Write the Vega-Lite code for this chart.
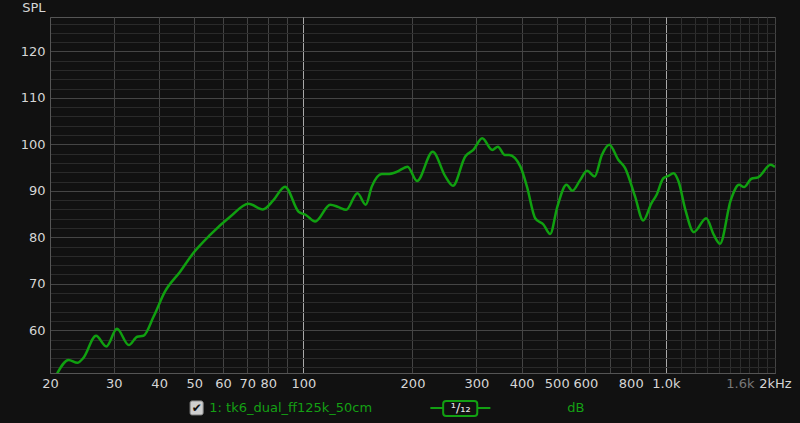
{
  "$schema": "https://vega.github.io/schema/vega-lite/v6.json",
  "width": 725,
  "height": 356,
  "autosize": {"type": "none"},
  "padding": {"left": 50, "top": 17, "right": 25, "bottom": 50},
  "background": "#111111",
  "config": {
    "font": "DejaVu Sans",
    "view": {"stroke": "#555555", "strokeWidth": 1, "fill": "#111111"},
    "text": {"font": "DejaVu Sans"},
    "axis": {"gridDash": [], "gridOpacity": 1}
  },
  "resolve": {"axis": {"x": "independent", "y": "independent"}, "scale": {"x": "shared", "y": "shared"}},
  "layer": [
    {
      "data": {
        "values": [
          {"f": 20.9, "db": 50.6},
          {"f": 22.5, "db": 53.6},
          {"f": 23.8, "db": 53.0},
          {"f": 24.7, "db": 54.0},
          {"f": 26.8, "db": 58.8},
          {"f": 28.6, "db": 56.5},
          {"f": 30.6, "db": 60.3},
          {"f": 33.0, "db": 56.8},
          {"f": 34.8, "db": 58.6},
          {"f": 36.2, "db": 58.8},
          {"f": 38.6, "db": 62.9},
          {"f": 41.5, "db": 68.3},
          {"f": 45.7, "db": 72.6},
          {"f": 49.7, "db": 76.6},
          {"f": 55.3, "db": 80.5},
          {"f": 62.8, "db": 84.4},
          {"f": 70.6, "db": 87.2},
          {"f": 77.3, "db": 86.0},
          {"f": 82.7, "db": 88.0},
          {"f": 89.0, "db": 90.9},
          {"f": 97.0, "db": 85.5},
          {"f": 101.6, "db": 84.8},
          {"f": 107.8, "db": 83.4},
          {"f": 118.6, "db": 87.0},
          {"f": 125, "db": 86.5},
          {"f": 131.2, "db": 85.9},
          {"f": 141, "db": 89.5},
          {"f": 148.6, "db": 87.0},
          {"f": 154.4, "db": 90.9},
          {"f": 164.6, "db": 93.6},
          {"f": 170.7, "db": 93.6},
          {"f": 181.2, "db": 94.1},
          {"f": 193.8, "db": 95.2},
          {"f": 205.8, "db": 92.1},
          {"f": 227.4, "db": 98.4},
          {"f": 246.4, "db": 93.1},
          {"f": 258.6, "db": 91.1},
          {"f": 279.6, "db": 97.4},
          {"f": 294.4, "db": 98.8},
          {"f": 311.4, "db": 101.3},
          {"f": 332, "db": 98.8},
          {"f": 344, "db": 99.5},
          {"f": 359.6, "db": 97.7},
          {"f": 369.6, "db": 97.7},
          {"f": 397, "db": 95.2},
          {"f": 413.8, "db": 90.9},
          {"f": 436, "db": 84.1},
          {"f": 460, "db": 82.7},
          {"f": 479.4, "db": 80.7},
          {"f": 502, "db": 86.6},
          {"f": 532, "db": 91.3},
          {"f": 552, "db": 90.0},
          {"f": 580, "db": 92.3},
          {"f": 606, "db": 94.3},
          {"f": 636, "db": 93.1},
          {"f": 666, "db": 97.7},
          {"f": 698, "db": 99.9},
          {"f": 739, "db": 96.7},
          {"f": 772, "db": 94.9},
          {"f": 822, "db": 88.8},
          {"f": 866, "db": 83.6},
          {"f": 912, "db": 87.3},
          {"f": 942, "db": 89.1},
          {"f": 984, "db": 92.7},
          {"f": 1016, "db": 93.2},
          {"f": 1050, "db": 93.8},
          {"f": 1084, "db": 92.0},
          {"f": 1132, "db": 85.9},
          {"f": 1194, "db": 81.1},
          {"f": 1292, "db": 84.1},
          {"f": 1356, "db": 80.5},
          {"f": 1410, "db": 78.6},
          {"f": 1510, "db": 88.0},
          {"f": 1592, "db": 91.3},
          {"f": 1643, "db": 90.8},
          {"f": 1722, "db": 92.6},
          {"f": 1796, "db": 92.9},
          {"f": 1946, "db": 95.6},
          {"f": 2000, "db": 95.1}
        ]
      },
      "mark": {"type": "line", "interpolate": "monotone", "color": "#10a010", "strokeWidth": 2.5, "clip": true},
      "encoding": {
        "x": {
          "field": "f",
          "type": "quantitative",
          "scale": {"type": "log", "domain": [20, 2000], "nice": false},
          "axis": {
            "title": null,
            "values": [20, 30, 40, 50, 60, 70, 80, 90, 100, 200, 300, 400, 500, 600, 700, 800, 900, 1000, 1100, 1200, 1300, 1400, 1500, 1600, 1700, 1800, 1900, 2000],
            "labelExpr": "datum.value==1000?'1.0k':datum.value==1600?'1.6k':datum.value==2000?'2kHz':indexof([20,30,40,50,60,70,80,100,200,300,400,500,600,800],datum.value)>=0?''+datum.value:''",
            "labelOverlap": false,
            "labelFlush": false,
            "labelBound": false,
            "labelFontSize": 13,
            "labelFont": "DejaVu Sans",
            "labelPadding": 4,
            "labelColor": {"condition": {"test": "datum.value==1600", "value": "#787878"}, "value": "#d6d6d6"},
            "ticks": false,
            "domain": true,
            "domainColor": "#555555",
            "grid": true,
            "gridDash": [],
            "gridColor": {"condition": [
              {"test": "datum.value==100||datum.value==1000", "value": "#a8a8a8"},
              {"test": "datum.value>1000&&datum.value<2000", "value": "#2e2e2e"}
            ], "value": "#444444"},
            "gridWidth": 1
          }
        },
        "y": {
          "field": "db",
          "type": "quantitative",
          "scale": {"domain": [50.8, 127.4], "nice": false, "zero": false},
          "axis": {
            "title": "SPL",
            "titleAngle": 0,
            "titleAlign": "right",
            "titleBaseline": "middle",
            "titleX": -5,
            "titleY": -10,
            "titleFontSize": 13,
            "titleFontWeight": "normal",
            "titleFont": "DejaVu Sans",
            "titleColor": "#d6d6d6",
            "values": [52, 54, 56, 58, 60, 62, 64, 66, 68, 70, 72, 74, 76, 78, 80, 82, 84, 86, 88, 90, 92, 94, 96, 98, 100, 102, 104, 106, 108, 110, 112, 114, 116, 118, 120, 122, 124, 126],
            "labelExpr": "datum.value % 10 == 0 ? ''+datum.value : ''",
            "labelFontSize": 13,
            "labelFont": "DejaVu Sans",
            "labelColor": "#d6d6d6",
            "labelPadding": 5,
            "labelOverlap": false,
            "labelFlush": false,
            "ticks": false,
            "domain": true,
            "domainColor": "#555555",
            "grid": true,
            "gridDash": [],
            "gridColor": {"condition": {"test": "datum.value % 10 == 0", "value": "#454545"}, "value": "#2a2a2a"},
            "gridWidth": 1
          }
        }
      }
    },
    {
      "data": {"values": [{}]},
      "mark": {"type": "rect", "fill": "#cfcfcf", "stroke": "#888888", "strokeWidth": 1, "cornerRadius": 2},
      "encoding": {
        "x": {"datum": 48.7, "type": "quantitative", "axis": null},
        "x2": {"datum": 52.9},
        "y": {"datum": 44.79, "type": "quantitative", "axis": null},
        "y2": {"datum": 41.78}
      }
    },
    {
      "data": {"values": [{}]},
      "mark": {"type": "text", "text": "✔", "color": "#111111", "fontSize": 12, "align": "center", "baseline": "middle"},
      "encoding": {
        "x": {"datum": 50.8, "type": "quantitative", "axis": null},
        "y": {"datum": 43.28, "type": "quantitative", "axis": null}
      }
    },
    {
      "data": {"values": [{}]},
      "mark": {"type": "text", "text": "1: tk6_dual_ff125k_50cm", "color": "#14a014", "fontSize": 13, "align": "left", "baseline": "middle"},
      "encoding": {
        "x": {"datum": 55.0, "type": "quantitative", "axis": null},
        "y": {"datum": 43.28, "type": "quantitative", "axis": null}
      }
    },
    {
      "data": {"values": [{}]},
      "mark": {"type": "rule", "color": "#12a012", "strokeWidth": 2},
      "encoding": {
        "x": {"datum": 224, "type": "quantitative", "axis": null},
        "x2": {"datum": 328},
        "y": {"datum": 43.28, "type": "quantitative", "axis": null}
      }
    },
    {
      "data": {"values": [{}]},
      "mark": {"type": "rect", "fill": "#111111", "stroke": "#12a012", "strokeWidth": 2, "cornerRadius": 3},
      "encoding": {
        "x": {"datum": 243, "type": "quantitative", "axis": null},
        "x2": {"datum": 301.8},
        "y": {"datum": 44.79, "type": "quantitative", "axis": null},
        "y2": {"datum": 41.56}
      }
    },
    {
      "data": {"values": [{}]},
      "mark": {"type": "text", "text": "¹/₁₂", "color": "#e6e6e6", "fontSize": 13, "align": "center", "baseline": "middle"},
      "encoding": {
        "x": {"datum": 271.6, "type": "quantitative", "axis": null},
        "y": {"datum": 43.28, "type": "quantitative", "axis": null}
      }
    },
    {
      "data": {"values": [{}]},
      "mark": {"type": "text", "text": "dB", "color": "#14a014", "fontSize": 13, "align": "center", "baseline": "middle"},
      "encoding": {
        "x": {"datum": 564, "type": "quantitative", "axis": null},
        "y": {"datum": 43.28, "type": "quantitative", "axis": null}
      }
    }
  ]
}
